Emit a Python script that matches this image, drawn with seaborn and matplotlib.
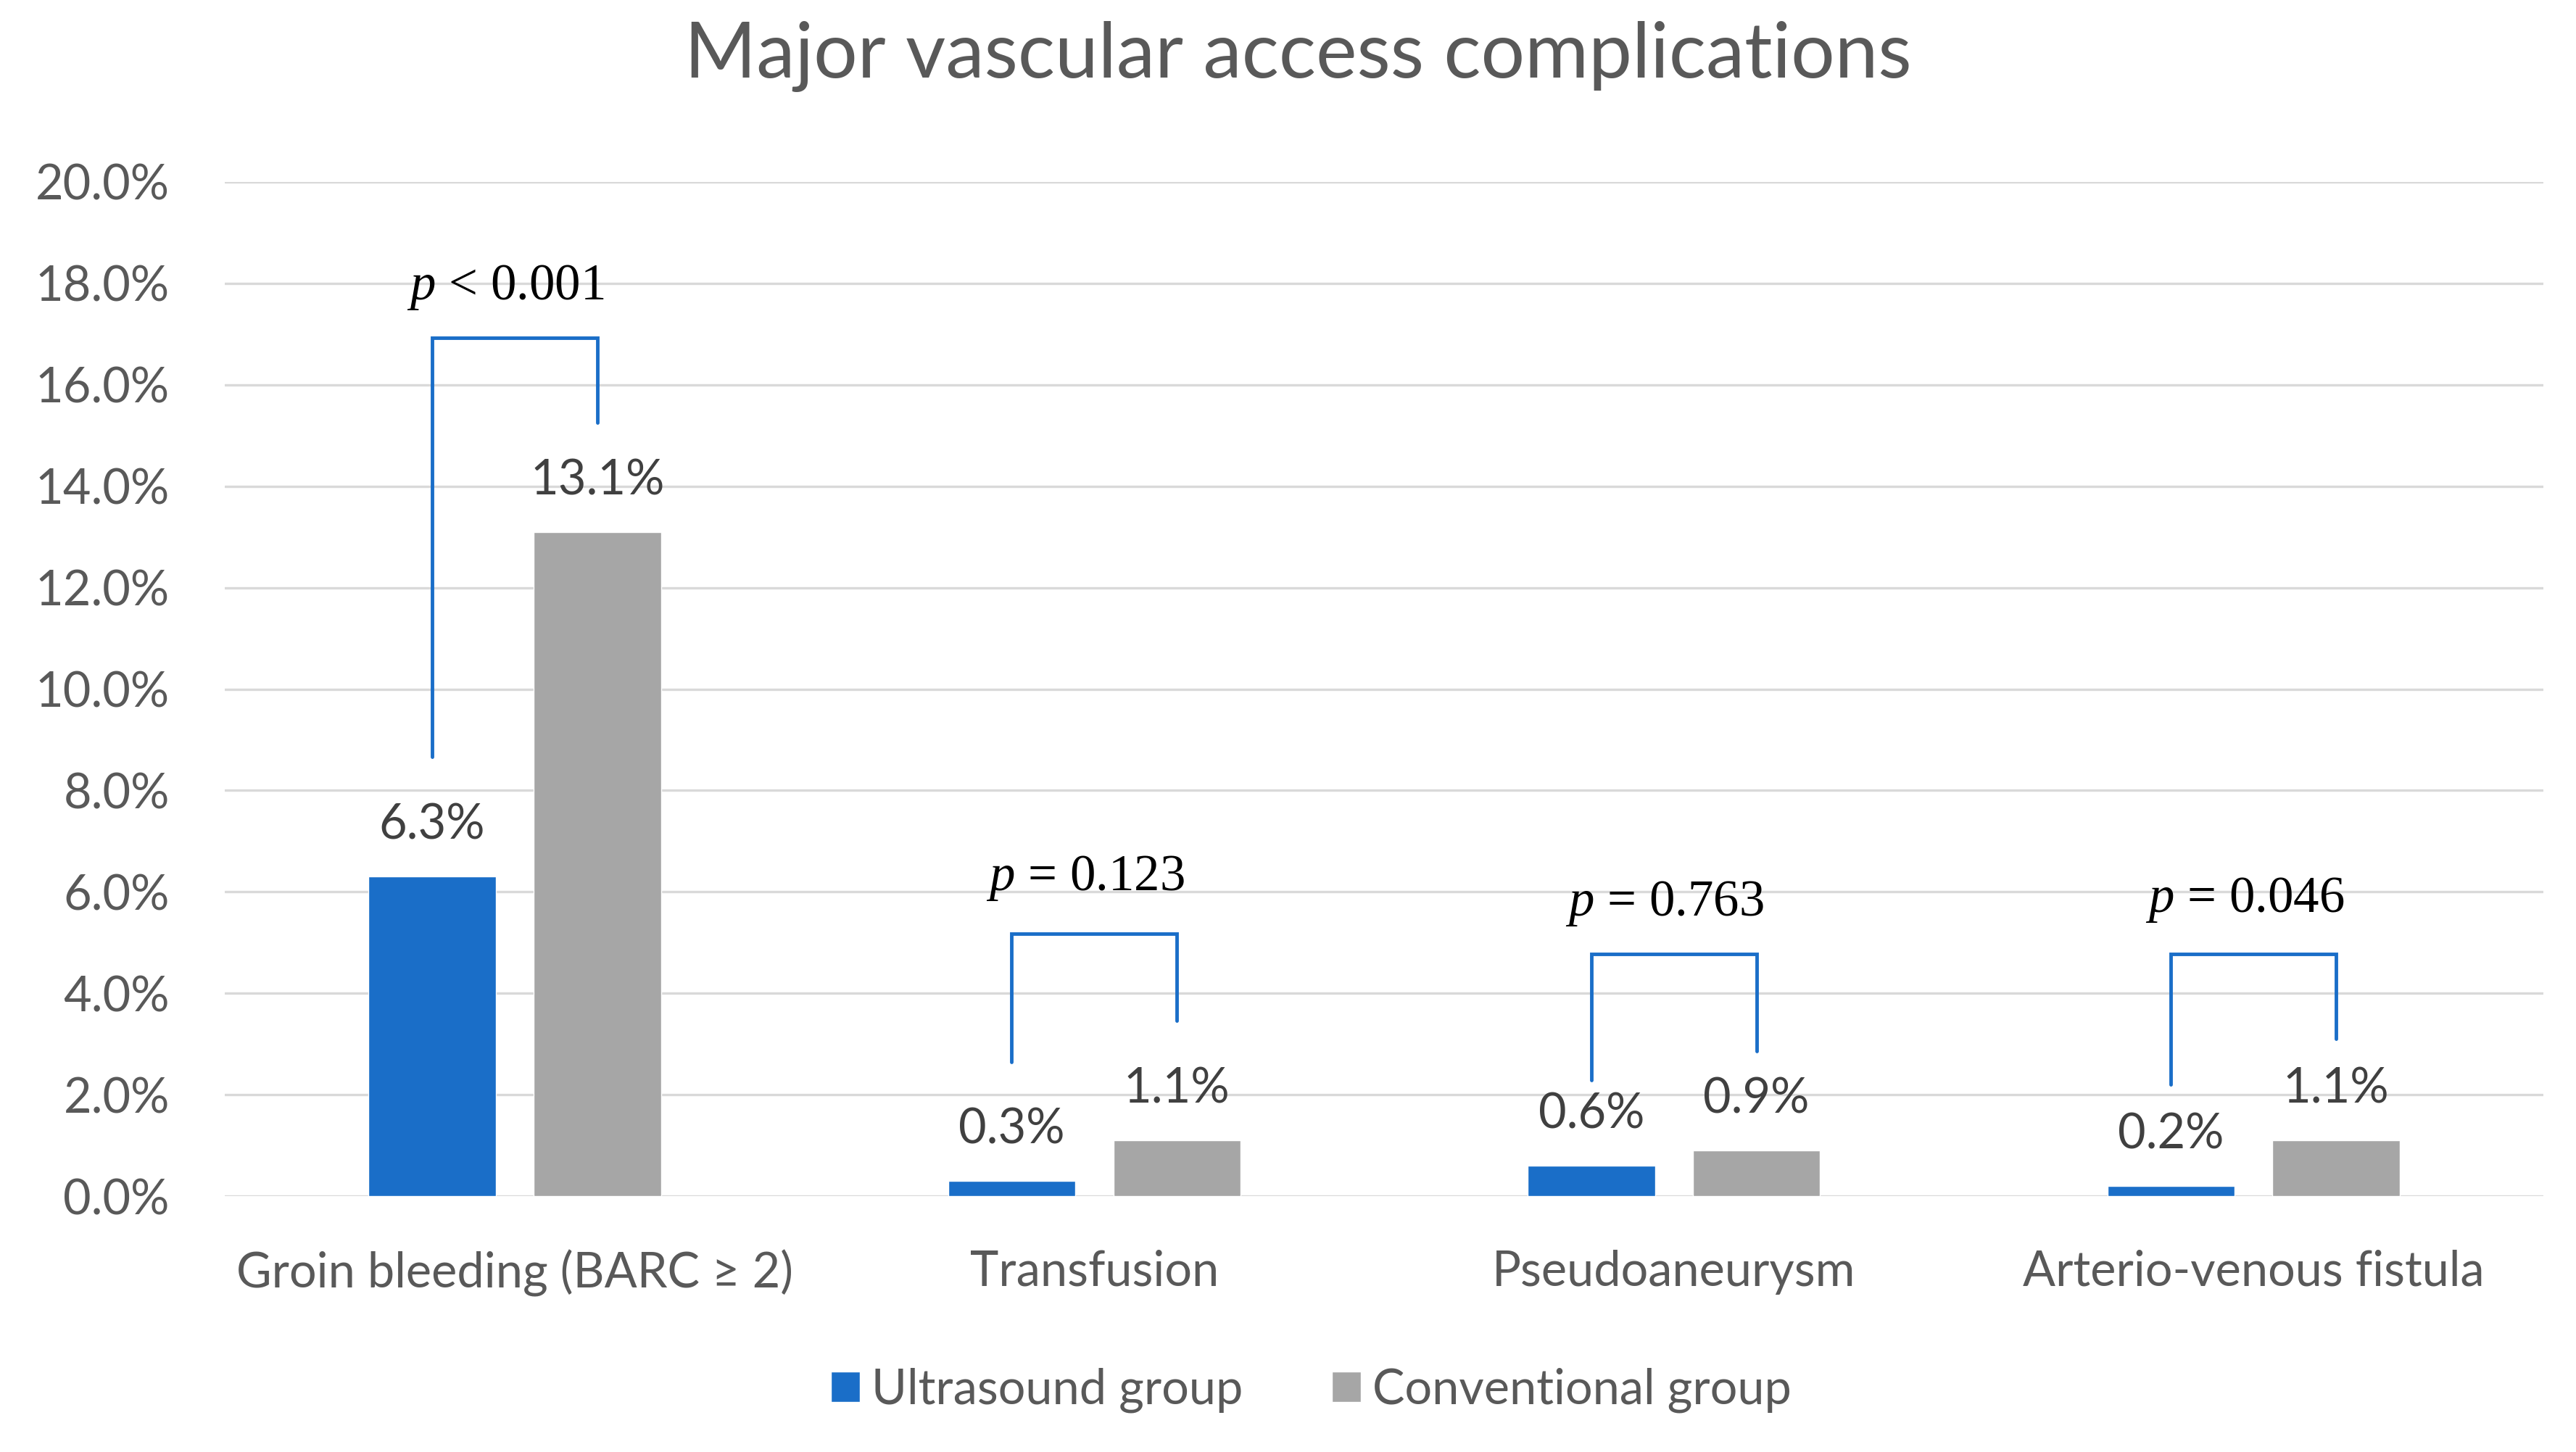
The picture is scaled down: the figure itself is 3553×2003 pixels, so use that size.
import matplotlib
matplotlib.use("Agg")
import matplotlib.pyplot as plt
import pandas as pd
import seaborn as sns

# ---- data ----
categories = ["Groin bleeding (BARC \u2265 2)", "Transfusion", "Pseudoaneurysm", "Arterio-venous fistula"]
groups = ["Ultrasound group", "Conventional group"]
ultrasound = [6.3, 0.3, 0.6, 0.2]
conventional = [13.1, 1.1, 0.9, 1.1]
p_labels = ["< 0.001", "= 0.123", "= 0.763", "= 0.046"]
bracket_top = [16.93, 5.18, 4.77, 4.77]
bracket_left_bottom = [8.67, 2.64, 2.29, 2.2]
bracket_right_bottom = [15.26, 3.46, 2.86, 3.1]
p_text_y = [17.69, 6.03, 5.53, 5.6]
yticks = [0, 2, 4, 6, 8, 10, 12, 14, 16, 18, 20]
title = "Major vascular access complications"

BLUE = "#1A6EC8"
GRAY = "#A6A6A6"
TXT = "#595959"

sns.set_theme(style="white")
plt.rcParams["font.family"] = ["Lato", "DejaVu Sans"]
plt.rcParams["mathtext.fontset"] = "custom"
plt.rcParams["mathtext.rm"] = "Liberation Serif"
plt.rcParams["mathtext.it"] = "Liberation Serif:italic"

df = pd.DataFrame({
    "Category": categories * 2,
    "Group": [groups[0]] * len(categories) + [groups[1]] * len(categories),
    "Value": ultrasound + conventional,
})

fig = plt.figure(figsize=(35.53, 20.03), dpi=100)
ax = fig.add_axes([0.0873, 0.1762, 0.9, 0.6985])

sns.barplot(data=df, x="Category", y="Value", hue="Group", hue_order=groups,
            palette=[BLUE, GRAY], width=0.57, gap=0.23, saturation=1,
            errorbar=None, ax=ax, zorder=3)

ax.set_xlim(-0.5, len(categories) - 0.5)
ax.set_ylim(0, 20)
ax.set_yticks(yticks)
ax.set_yticklabels([f"{v:.1f}%" for v in yticks])
ax.set_xlabel("")
ax.set_ylabel("")
ax.yaxis.grid(True, color="#D9D9D9", linewidth=2.4, zorder=0)
ax.xaxis.grid(False)
ax.set_axisbelow(True)
for s in ax.spines.values():
    s.set_visible(False)
ax.tick_params(axis="y", length=0, pad=55, labelsize=48, labelcolor=TXT)
ax.tick_params(axis="x", length=0, pad=53, labelsize=48, labelcolor=TXT)

# value labels
for cont in ax.containers:
    for rect in cont:
        h = rect.get_height()
        ax.annotate(f"{h:.1f}%", xy=(rect.get_x() + rect.get_width() / 2, h),
                    xytext=(0, 37), textcoords="offset points",
                    ha="center", va="baseline", fontsize=48, color="#404040")

# significance brackets
us_bars = list(ax.containers[0])
cv_bars = list(ax.containers[1])
for i in range(len(categories)):
    xl = us_bars[i].get_x() + us_bars[i].get_width() / 2
    xr = cv_bars[i].get_x() + cv_bars[i].get_width() / 2
    ax.plot([xl, xl, xr, xr],
            [bracket_left_bottom[i], bracket_top[i], bracket_top[i], bracket_right_bottom[i]],
            color=BLUE, linewidth=3.5, solid_joinstyle="miter", zorder=4)
    ax.annotate(r"$p$ " + p_labels[i], xy=((xl + xr) / 2, p_text_y[i]),
                xytext=(-9, 0), textcoords="offset points",
                ha="center", va="baseline", fontsize=51, color="black",
                family="Liberation Serif")

# legend
handles, labels = ax.get_legend_handles_labels()
ax.legend(handles, labels, loc="center", bbox_to_anchor=(0.509, 0.0424),
          bbox_transform=fig.transFigure, ncol=2, frameon=False,
          fontsize=48, labelcolor=TXT, handlelength=0.6, handleheight=0.6,
          handletextpad=0.24, columnspacing=1.85)

fig.text(0.5038, 0.9466, title, ha="center", va="baseline", fontsize=77, color=TXT)

fig.savefig("out.png", dpi=100, facecolor="white")
